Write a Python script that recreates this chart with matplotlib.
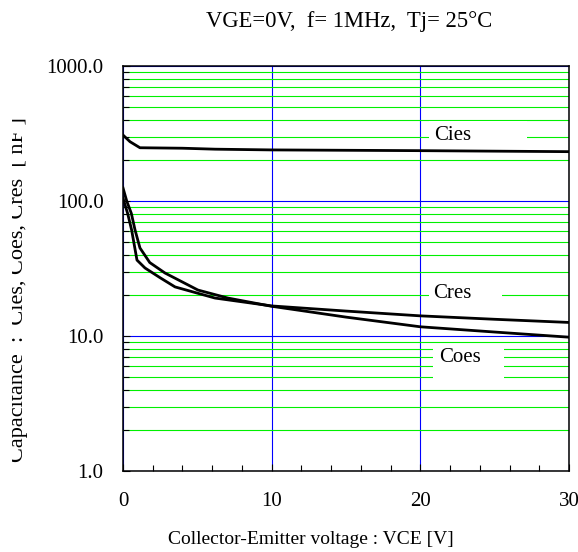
import numpy as np
import matplotlib
matplotlib.use("Agg")
import matplotlib.pyplot as plt
from matplotlib.patches import Rectangle
from matplotlib.transforms import Bbox
from matplotlib.ticker import FixedLocator, FixedFormatter, MultipleLocator

plt.rcParams['font.family'] = ['Liberation Serif', 'DejaVu Serif']

# Capacitance curves [nF] vs collector-emitter voltage [V]
vce_cies = [0, 0.47, 1.14, 4.0, 6.2, 10, 20, 30]
cies = [308, 275, 248, 246, 242, 239, 236, 232]

vce_coes = [0, 0.25, 0.56, 0.81, 1.14, 1.8, 2.82, 5.04, 7.06, 10, 15, 20, 25, 30]
coes = [125, 100, 81, 61, 44.9, 35, 29.3, 21.9, 19.1, 16.6, 13.8, 11.7, 10.7, 9.8]

vce_cres = [0, 0.31, 0.58, 0.94, 1.48, 2.5, 3.5, 6.19, 10, 15, 20, 25, 30]
cres = [105, 81, 61, 36.5, 31.9, 27, 23.1, 19.1, 16.7, 15.3, 14.1, 13.3, 12.6]

y_ticks = [1, 10, 100, 1000]
y_tick_labels = ['1.0', '10.0', '100.0', '1000.0']
x_ticks = [0, 10, 20, 30]
x_tick_labels = ['0', '10', '20', '30']

W, H = 578, 552
fig = plt.figure(figsize=(W / 100, H / 100), dpi=100)
ax = fig.add_axes([123 / W, 1 - 471 / H, 446 / W, 405 / H])

ax.set_yscale('log')
ax.set_xlim(0, 30)
ax.set_ylim(1, 1000)

# grid: blue at decades / 10 V steps, green at minor decades
ax.yaxis.set_major_locator(FixedLocator(y_ticks))
ax.yaxis.set_major_formatter(FixedFormatter(y_tick_labels))
ax.xaxis.set_major_locator(FixedLocator(x_ticks))
ax.xaxis.set_major_formatter(FixedFormatter(x_tick_labels))
ax.xaxis.set_minor_locator(MultipleLocator(2))
ax.yaxis.grid(True, which='major', color='#0000ff', lw=0.8)
ax.yaxis.grid(True, which='minor', color='#00f000', lw=0.8)
ax.xaxis.grid(True, which='major', color='#0000ff', lw=0.8)
ax.set_axisbelow(True)

ax.tick_params(which='both', direction='in', labelsize=15, color='black')
ax.tick_params(which='major', length=5, width=0.8)
ax.tick_params(which='minor', length=4, width=0.8)
ax.tick_params(axis='y', which='both', pad=14)
ax.tick_params(axis='x', which='both', pad=15)
for sp in ax.spines.values():
    sp.set_linewidth(1.1)

ax.plot(vce_cies, cies, color='black', lw=2, zorder=3)
ax.plot(vce_coes, coes, color='black', lw=2, zorder=3)
ax.plot(vce_cres, cres, color='black', lw=2, zorder=3)

# white label boxes that blank out the grid lines
def px_box(x0, x1, y0, y1):
    return Rectangle(((x0 - 123) / 446, (471 - y1) / 405), (x1 - x0) / 446,
                     (y1 - y0) / 405, transform=ax.transAxes,
                     facecolor='white', edgecolor='none', zorder=2.5)

ax.add_patch(px_box(429, 527, 121, 149))
ax.add_patch(px_box(429, 502, 276, 317))
ax.add_patch(px_box(433, 504, 345, 380))

labels = [('Cies', 434, 135), ('Cres', 433, 293), ('Coes', 439, 358)]
for name, px, py in labels:
    ax.text((px - 123) / 446, (471 - py) / 405, name, transform=ax.transAxes,
            fontsize=15, ha='left', va='center', zorder=4)

fig.text(349 / W, 1 - 22 / H, 'VGE=0V,  f= 1MHz,  Tj= 25\u00b0C',
         fontsize=16.3, ha='center', va='center')
fig.text(311 / W, 1 - 540 / H, 'Collector-Emitter voltage : VCE [V]',
         fontsize=14, ha='center', va='center')

ylab = fig.text(23 / W, 1 - 290 / H, 'Capacitance  :  Cies, Coes, Cres  [ nF ]',
                fontsize=16, ha='center', va='baseline', rotation=90,
                rotation_mode='anchor')
ylab.set_clip_box(Bbox.from_extents(12, 0, W, H))
ylab.set_clip_on(True)

fig.savefig('out.png', dpi=100)
